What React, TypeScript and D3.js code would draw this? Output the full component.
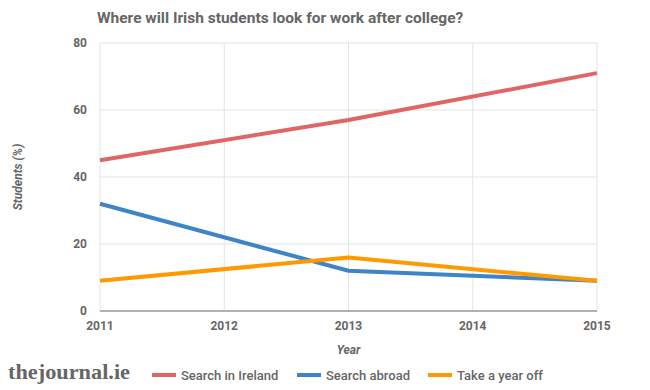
import React from "react";
import * as d3 from "d3";

const years = [2011, 2013, 2015];
const xTicks = [2011, 2012, 2013, 2014, 2015];
const yTicks = [0, 20, 40, 60, 80];
const seriesNames = ["Search in Ireland", "Search abroad", "Take a year off"];
const searchIreland = [45, 57, 71];
const searchAbroad = [32, 12, 9];
const yearOff = [9, 16, 9];
const colors = ["#e06666", "#3d85c6", "#ff9900"];

const W = 650, H = 390;
const left = 100, right = 597, top = 43, bottom = 311;
const grey = "#666";
const font = "Roboto, Arial, sans-serif";

export default function App() {
  const x = d3.scaleLinear().domain([2011, 2015]).range([left, right]);
  const y = d3.scaleLinear().domain([0, 80]).range([bottom, top]);
  const line = d3.line<[number, number]>().x(d => x(d[0])).y(d => y(d[1]));
  const allSeries = [searchIreland, searchAbroad, yearOff];
  const legendX = [152, 297, 428];

  return (
    <svg width={W} height={H} style={{ position: "absolute", left: 0, top: 0, background: "#fff" }}>
      <rect width={W} height={H} fill="#fff" />
      <text x={97} y={23} fontFamily={font} fontSize={15.5} fontWeight="bold" fill={grey}>
        Where will Irish students look for work after college?
      </text>
      {yTicks.map(t => (
        <g key={"y" + t}>
          {t > 0 && <line x1={left} x2={right} y1={y(t)} y2={y(t)} stroke="#e3e3e3" strokeWidth={1} />}
          <text x={87} y={y(t) + 4} textAnchor="end" fontFamily={font} fontSize={12} fontWeight="bold" fill={grey}>{t}</text>
        </g>
      ))}
      {xTicks.map(t => (
        <g key={"x" + t}>
          <line x1={x(t)} x2={x(t)} y1={top} y2={bottom} stroke="#e3e3e3" strokeWidth={1} />
          <text x={x(t)} y={bottom + 19} textAnchor="middle" fontFamily={font} fontSize={12} fontWeight="bold" fill={grey}>{t}</text>
        </g>
      ))}
      <line x1={left} x2={right} y1={bottom} y2={bottom} stroke="#999" strokeWidth={1.5} />
      {allSeries.map((s, i) => (
        <path key={i} d={line(years.map((yr, j) => [yr, s[j]] as [number, number])) || ""}
          fill="none" stroke={colors[i]} strokeWidth={4} strokeLinejoin="round" />
      ))}
      <text x={x(2013)} y={354} textAnchor="middle" fontFamily={font} fontSize={12} fontWeight="bold" fontStyle="italic" fill={grey}>Year</text>
      <text transform={`translate(22,${(top + bottom) / 2}) rotate(-90)`} textAnchor="middle" fontFamily={font} fontSize={12} fontWeight="bold" fontStyle="italic" fill={grey}>Students (%)</text>
      {seriesNames.map((n, i) => (
        <g key={n}>
          <rect x={legendX[i]} y={373} width={24} height={4} fill={colors[i]} />
          <text x={legendX[i] + 29} y={380} fontFamily={font} fontSize={13} fontWeight={500} fill={grey}>{n}</text>
        </g>
      ))}
      <text x={8} y={379} fontFamily="'Liberation Serif', 'DejaVu Serif', serif" fontSize={21} fontWeight="bold" fill="#666" textLength={122} lengthAdjust="spacingAndGlyphs">thejournal.ie</text>
    </svg>
  );
}
